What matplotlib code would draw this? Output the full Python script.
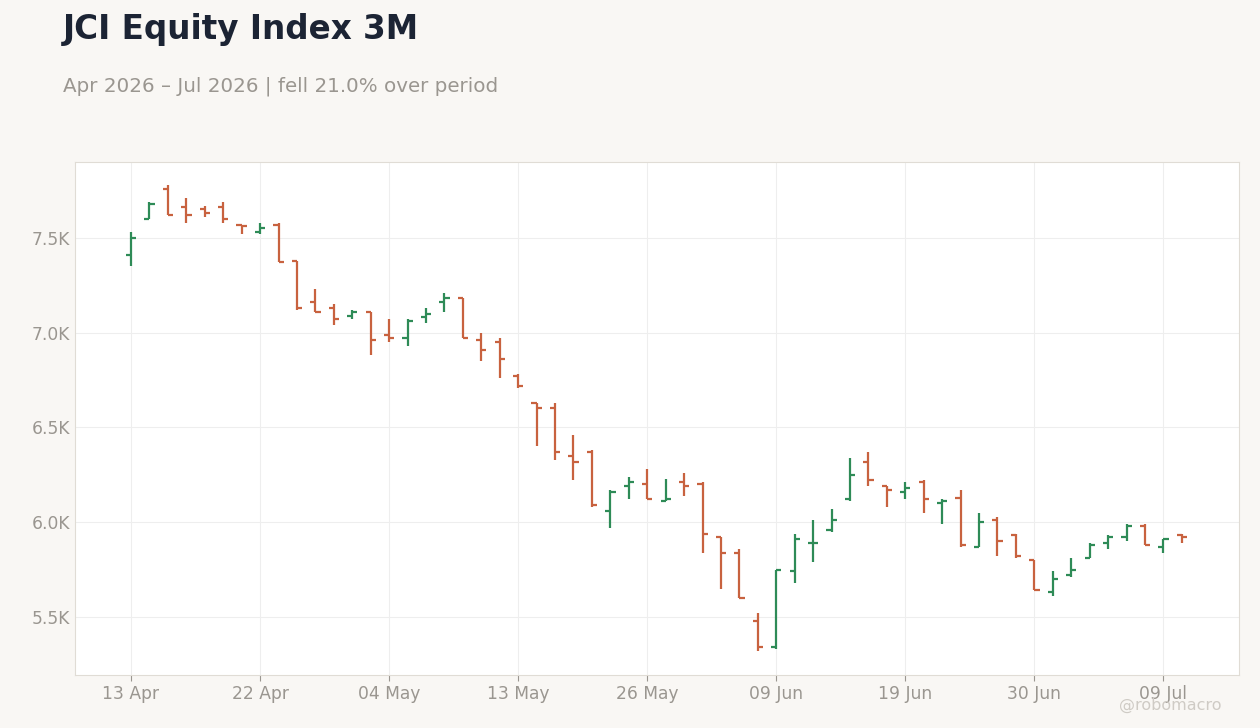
import matplotlib.pyplot as plt
from matplotlib.ticker import FuncFormatter

# OHLC values (thousands), one entry per trading day
opens = [7.41, 7.60, 7.76, 7.66, 7.65, 7.66, 7.57, 7.53, 7.57, 7.38,
         7.16, 7.13, 7.09, 7.11, 6.99, 6.97, 7.08, 7.16, 7.18, 6.96,
         6.95, 6.77, 6.63, 6.60, 6.35, 6.37, 6.06, 6.19, 6.20, 6.11,
         6.21, 6.20, 5.92, 5.84, 5.48, 5.34, 5.74, 5.89, 5.96, 6.12,
         6.32, 6.19, 6.16, 6.21, 6.10, 6.13, 5.87, 6.01, 5.93, 5.80,
         5.63, 5.72, 5.81, 5.89, 5.92, 5.98, 5.87, 5.93]
highs = [7.53, 7.69, 7.78, 7.71, 7.67, 7.69, 7.57, 7.58, 7.58, 7.38,
         7.23, 7.15, 7.12, 7.11, 7.07, 7.07, 7.13, 7.21, 7.18, 7.00,
         6.97, 6.78, 6.63, 6.63, 6.46, 6.38, 6.17, 6.24, 6.28, 6.23,
         6.26, 6.21, 5.92, 5.86, 5.52, 5.75, 5.94, 6.01, 6.07, 6.34,
         6.37, 6.19, 6.21, 6.22, 6.12, 6.17, 6.05, 6.03, 5.94, 5.80,
         5.74, 5.81, 5.89, 5.93, 5.99, 5.99, 5.91, 5.94]
lows = [7.35, 7.60, 7.62, 7.58, 7.61, 7.58, 7.52, 7.52, 7.37, 7.12,
        7.11, 7.04, 7.07, 6.88, 6.95, 6.93, 7.05, 7.11, 6.97, 6.85,
        6.76, 6.71, 6.40, 6.33, 6.22, 6.08, 5.97, 6.12, 6.12, 6.11,
        6.14, 5.84, 5.65, 5.60, 5.32, 5.33, 5.68, 5.79, 5.95, 6.11,
        6.19, 6.08, 6.12, 6.05, 5.99, 5.87, 5.87, 5.82, 5.81, 5.64,
        5.61, 5.71, 5.81, 5.86, 5.90, 5.88, 5.84, 5.89]
closes = [7.50, 7.68, 7.62, 7.62, 7.63, 7.60, 7.565, 7.55, 7.37, 7.13,
          7.11, 7.07, 7.11, 6.96, 6.97, 7.06, 7.10, 7.18, 6.97, 6.91,
          6.86, 6.72, 6.60, 6.37, 6.32, 6.09, 6.16, 6.21, 6.12, 6.12,
          6.19, 5.94, 5.84, 5.60, 5.34, 5.75, 5.91, 5.89, 6.01, 6.25,
          6.22, 6.17, 6.18, 6.12, 6.11, 5.88, 6.00, 5.90, 5.82, 5.64,
          5.70, 5.75, 5.88, 5.92, 5.98, 5.88, 5.91, 5.92]
tick_pos = [0, 7, 14, 21, 28, 35, 42, 49, 56]
tick_labels = ["13 Apr", "22 Apr", "04 May", "13 May", "26 May",
               "09 Jun", "19 Jun", "30 Jun", "09 Jul"]

UP = "#2e8b57"
DOWN = "#c8623f"
BG = "#f9f7f4"

fig = plt.figure(figsize=(12.6, 7.28), dpi=100, facecolor=BG)
ax = fig.add_axes([75 / 1260, 53 / 728, 1164 / 1260, 513 / 728])
ax.set_facecolor("white")

w = 0.28
for i, (o, h, l, c) in enumerate(zip(opens, highs, lows, closes)):
    col = UP if c >= o else DOWN
    ax.vlines(i, l * 1000, h * 1000, color=col, lw=1.6)
    ax.hlines(o * 1000, i - w, i, color=col, lw=1.6)
    ax.hlines(c * 1000, i, i + w, color=col, lw=1.6)

ax.set_xlim(-3.04, 60.1)
ax.set_ylim(5194, 7900)
ax.set_yticks([5500, 6000, 6500, 7000, 7500])
ax.yaxis.set_major_formatter(FuncFormatter(lambda v, _: f"{v / 1000:.1f}K"))
ax.set_xticks(tick_pos)
ax.set_xticklabels(tick_labels)
ax.grid(True, color="#eeeeee", lw=0.8)
ax.set_axisbelow(True)
for s in ax.spines.values():
    s.set_color("#e0dcd5")
ax.tick_params(colors="#9a9690", labelsize=12.3, length=4)
ax.tick_params(axis="y", length=0)

fig.text(63 / 1260, 1 - 30 / 728, "JCI Equity Index 3M", fontsize=23.5,
         fontweight="bold", color="#1c2434", va="center")
fig.text(63 / 1260, 1 - 86 / 728,
         "Apr 2026 \u2013 Jul 2026 | fell 21.0% over period",
         fontsize=14.3, color="#9a9690", va="center")
fig.text(1222 / 1260, 1 - 705 / 728, "@robomacro", fontsize=11.5,
         color="#cfcbc5", ha="right", va="center")

fig.savefig("out.png", dpi=100, facecolor=BG)
